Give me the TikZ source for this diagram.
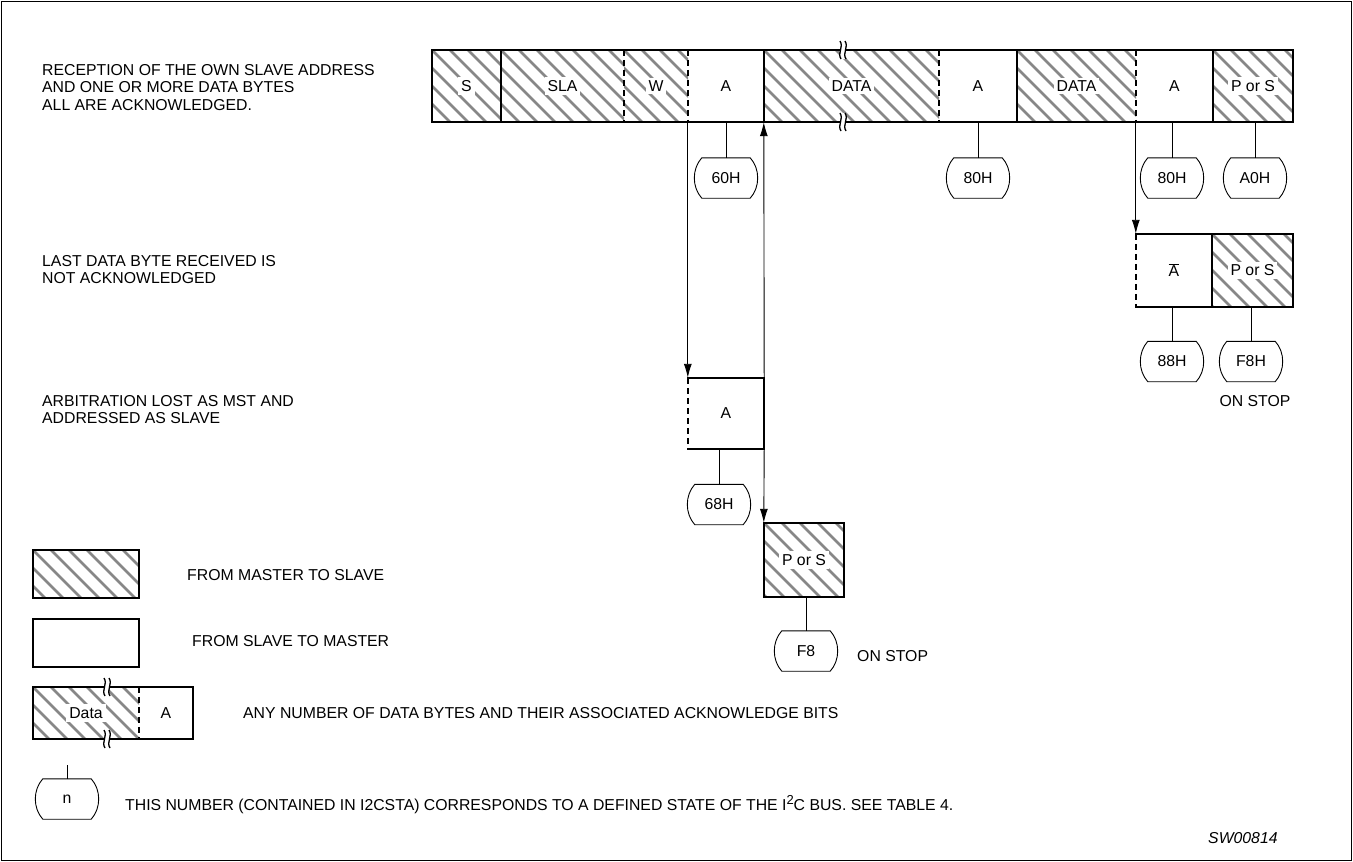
\documentclass[tikz,border=0pt]{standalone}
\usepackage{fontspec}
\setmainfont{Liberation Sans}
\usetikzlibrary{arrows.meta}
\definecolor{hatchgray}{RGB}{135,135,135}
\newcommand\wb[1]{{\setlength\fboxsep{3pt}\colorbox{white}{#1}}}
\begin{document}
\begin{tikzpicture}[x=1pt,y=-1pt,
  every node/.style={font=\fontsize{15.8}{17.5}\selectfont, inner sep=0pt},
  boxline/.style={line width=2.2pt, line cap=rect},
  dashline/.style={line width=2.2pt, dash pattern=on 6pt off 4pt},
  thinline/.style={line width=0.9pt},
  arr/.style={line width=0.9pt, -{Latex[length=14pt,width=8pt]}},
  fieldbox/.style={rectangle, inner sep=0pt},
  hatched/.style={path picture={
     \foreach \k in {-7,...,14}{
       \draw[hatchgray, line width=2.5pt] ([xshift=\k*18pt]path picture bounding box.north west) -- ++(110pt,-110pt);}}},
  bubnode/.style={rectangle, minimum width=48pt, minimum height=40pt, inner sep=0pt},
  lbl/.style={align=left, anchor=north west}
]
\useasboundingbox (0,0) rectangle (1353,862);
\draw[line width=1.2pt] (1.5,1.5) rectangle (1351.5,860.5);

\newcommand\fld[7]{\node[fieldbox,#6,minimum width={(#4)-(#2)},minimum height={(#5)-(#3)}] (#1) at ({((#2)+(#4))/2},{((#3)+(#5))/2}) {#7};}
\newcommand\bub[4]{%
  \node[bubnode] (#1) at (#2,#3) {#4};
  \draw[thinline] (#1.north west) -- (#1.north east)
     .. controls ([xshift=10pt,yshift=-11pt]#1.north east) and ([xshift=10pt,yshift=11pt]#1.south east) .. (#1.south east)
     -- (#1.south west)
     .. controls ([xshift=-10pt,yshift=11pt]#1.south west) and ([xshift=-10pt,yshift=-11pt]#1.north west) .. (#1.north west) -- cycle;}
\newcommand\brk[1]{%
  \begin{scope}[shift={(#1)}]
    \fill[white] (-3pt,9pt) .. controls (1pt,3pt) and (-6pt,-3pt) .. (-2pt,-9pt) -- (3pt,-9pt) .. controls (-1pt,-3pt) and (6pt,3pt) .. (2pt,9pt) -- cycle;
    \draw[line width=1.3pt] (-3pt,9pt) .. controls (1pt,3pt) and (-6pt,-3pt) .. (-2pt,-9pt);
    \draw[line width=1.3pt] (2pt,9pt) .. controls (6pt,3pt) and (-1pt,-3pt) .. (3pt,-9pt);
  \end{scope}}

% ---- left labels
\node[lbl] (t1) at (42,64) {RECEPTION OF THE OWN SLAVE ADDRESS\\AND ONE OR MORE DATA BYTES\\ALL ARE ACKNOWLEDGED.};
\node[lbl] (t2) at (42,255) {LAST DATA BYTE RECEIVED IS\\NOT ACKNOWLEDGED};
\node[lbl] (t3) at (42,395) {ARBITRATION LOST AS MST AND\\ADDRESSED AS SLAVE};

% ---- top row
\fld{S}{432}{50}{501}{122}{hatched}{\wb{S}}
\fld{SLA}{501}{50}{624}{122}{hatched}{\wb{SLA}}
\fld{W}{624}{50}{688}{122}{hatched}{\wb{W}}
\fld{A1}{688}{50}{764}{122}{}{A}
\fld{D1}{764}{50}{939}{122}{hatched}{\wb{DATA}}
\fld{A2}{939}{50}{1017}{122}{}{A}
\fld{D2}{1017}{50}{1136}{122}{hatched}{\wb{DATA}}
\fld{A3}{1136}{50}{1213}{122}{}{A}
\fld{PS1}{1213}{50}{1293}{122}{hatched}{\wb{P or S}}
\draw[boxline] (S.north west) rectangle (PS1.south east);
\foreach \n in {SLA,D1,D2,PS1} \draw[boxline] (\n.north west) -- (\n.south west);
\foreach \n in {W,A1,A2,A3} \draw[dashline] (\n.north west) -- (\n.south west);
\brk{843,50}
\brk{843,122}

% ---- row 2
\fld{Ab}{1136}{234}{1212}{307}{}{$\overline{\mbox{A}}$}
\fld{PS2}{1212}{234}{1293}{307}{hatched}{\wb{P or S}}
\draw[boxline] (Ab.south west) -- (PS2.south east) -- (PS2.north east) -- (Ab.north west);
\draw[boxline] (PS2.north west) -- (PS2.south west);
\draw[dashline] (Ab.north west) -- (Ab.south west);

% ---- row 3
\fld{arbA}{688}{378}{764}{449}{}{A}
\draw[boxline] (arbA.south west) -- (arbA.south east) -- (arbA.north east) -- (arbA.north west);
\draw[dashline] (arbA.north west) -- (arbA.south west);
\fld{PS3}{764}{523}{844}{597}{hatched}{\wb{P or S}}
\draw[boxline] (PS3.north west) rectangle (PS3.south east);

% ---- bubbles
\bub{b60}{726}{178}{60H}
\bub{b80a}{978}{178}{80H}
\bub{b80b}{1172}{178}{80H}
\bub{bA0}{1255}{178}{A0H}
\bub{b88}{1172}{361.5}{88H}
\bub{bF8H}{1251}{361.5}{F8H}
\bub{b68}{719}{504.5}{68H}
\bub{bF8}{806}{651}{F8}
\foreach \b/\f in {b60/A1,b80a/A2,b80b/A3,bA0/PS1,b88/Ab,bF8H/PS2,b68/arbA,bF8/PS3}
  \draw[thinline] (\b.north) -- (\b.north |- \f.south);
\node[anchor=base] (os1) at (1255,406.5) {ON STOP};
\node[anchor=base west] (os2) at (857,661) {ON STOP};

% ---- arrows
\draw[arr] (A1.south west) -- (arbA.north west);
\draw[arr] (arbA.north east) -- (D1.south west);
\draw[arr] (arbA.south east) -- (PS3.north west);
\draw[arr] (A3.south west) -- (Ab.north west);

% ---- legend
\fld{LH}{33}{550}{139}{598}{hatched}{}
\draw[boxline] (LH.north west) rectangle (LH.south east);
\node[anchor=base west] (lt1) at (187,580) {FROM MASTER TO SLAVE};
\fld{LW}{33}{619}{139}{667}{}{}
\draw[boxline] (LW.north west) rectangle (LW.south east);
\node[anchor=base west] (lt2) at (192,646) {FROM SLAVE TO MASTER};
\fld{LD}{33}{687}{139}{739}{hatched}{\wb{Data}}
\fld{LA}{139}{687}{193}{739}{}{A}
\draw[boxline] (LD.north west) rectangle (LA.south east);
\draw[dashline] (LA.north west) -- (LA.south west);
\brk{107,687}
\brk{107,739}
\node[anchor=base west] (lt3) at (243,718.5) {ANY NUMBER OF DATA BYTES AND THEIR ASSOCIATED ACKNOWLEDGE BITS};
\bub{bn}{67}{799}{n}
\coordinate (nstem) at (67,765);
\draw[thinline] (bn.north) -- (nstem);
\node[anchor=base west] (lt4) at (125,810) {THIS NUMBER (CONTAINED IN I2CSTA) CORRESPONDS TO A DEFINED STATE OF THE I\raisebox{6pt}{\fontsize{13}{13}\selectfont 2}C BUS. SEE TABLE 4.};
\node[anchor=base west] (sw) at (1208,843) {\itshape SW00814};
\end{tikzpicture}
\end{document}
